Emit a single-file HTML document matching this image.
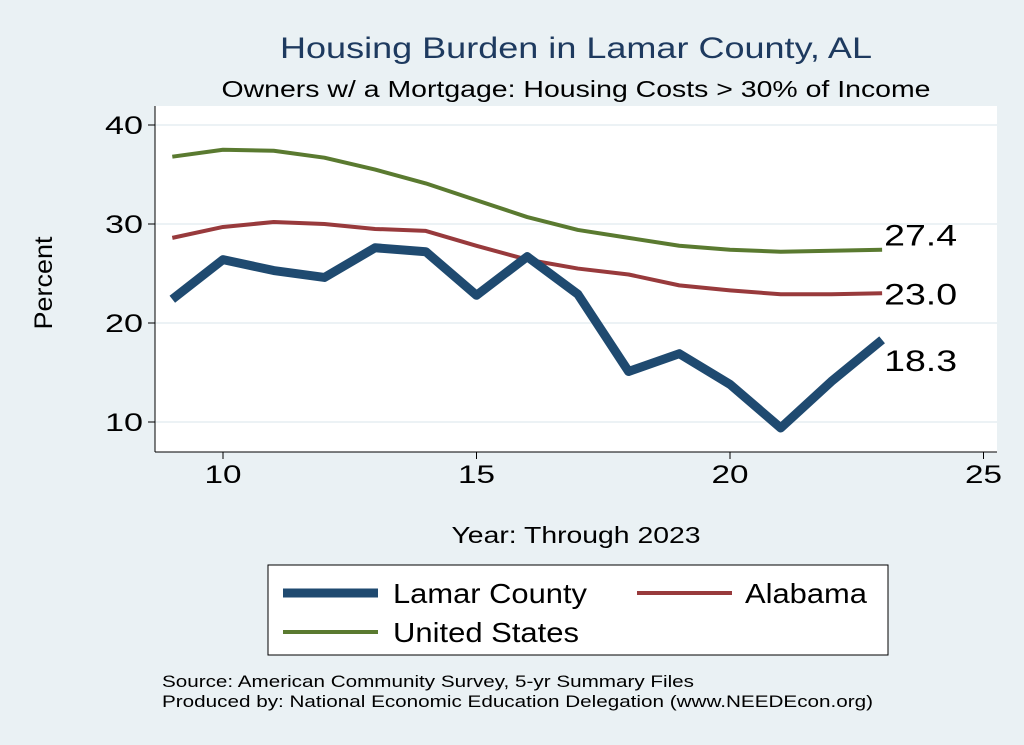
<!DOCTYPE html>
<html><head><meta charset="utf-8"><style>
body{margin:0;background:#eaf1f4;font-family:"Liberation Sans",sans-serif}
svg{display:block}
</style></head><body>
<svg id="c" width="1024" height="745">
<rect x="0" y="0" width="1024" height="745" fill="#eaf1f4"/>
<text x="576" y="58" text-anchor="middle" font-size="30" fill="#1e3a5f" textLength="592" lengthAdjust="spacingAndGlyphs">Housing Burden in Lamar County, AL</text>
<text x="576" y="97" text-anchor="middle" font-size="23" fill="#000" textLength="709" lengthAdjust="spacingAndGlyphs">Owners w/ a Mortgage: Housing Costs &gt; 30% of Income</text>
<rect x="155" y="106" width="842" height="346" fill="#fff"/>
<g id="grid"></g><g id="axes"></g><g id="series"></g>
<line x1="155" y1="106" x2="155" y2="452" stroke="#000"/>
<line x1="155" y1="452" x2="997" y2="452" stroke="#000"/>
<text x="52" y="283" text-anchor="middle" font-size="25" transform="rotate(-90 52 283)" textLength="93" lengthAdjust="spacingAndGlyphs">Percent</text>
<text x="576" y="543" text-anchor="middle" font-size="23" textLength="249" lengthAdjust="spacingAndGlyphs">Year: Through 2023</text>
<g>
<rect x="268" y="565" width="620" height="90" fill="#fff" stroke="#000" stroke-width="1"/>
<line x1="283" y1="593" x2="378" y2="593" stroke="#1f4a70" stroke-width="9"/>
<text x="393" y="603" font-size="28" textLength="194" lengthAdjust="spacingAndGlyphs">Lamar County</text>
<line x1="637" y1="593" x2="732" y2="593" stroke="#983a3c" stroke-width="4"/>
<text x="745" y="603" font-size="28" textLength="122" lengthAdjust="spacingAndGlyphs">Alabama</text>
<line x1="283" y1="632" x2="378" y2="632" stroke="#5a7a30" stroke-width="4"/>
<text x="393" y="642" font-size="28" textLength="186" lengthAdjust="spacingAndGlyphs">United States</text>
</g>
<text x="162" y="687" font-size="17" textLength="532" lengthAdjust="spacingAndGlyphs">Source: American Community Survey, 5-yr Summary Files</text>
<text x="162" y="707" font-size="17" textLength="711" lengthAdjust="spacingAndGlyphs">Produced by: National Economic Education Delegation (www.NEEDEcon.org)</text>
</svg>
<script>
const years=[9,10,11,12,13,14,15,16,17,18,19,20,21,22,23];
const lamar=[22.4,26.4,25.3,24.6,27.6,27.2,22.8,26.7,22.9,15.1,16.9,13.8,9.4,14.1,18.3];
const alabama=[28.6,29.7,30.2,30.0,29.5,29.3,27.8,26.4,25.5,24.9,23.8,23.3,22.9,22.9,23.0];
const us=[36.8,37.5,37.4,36.7,35.5,34.1,32.4,30.7,29.4,28.6,27.8,27.4,27.2,27.3,27.4];
const xTicks=[10,15,20,25];
const yTicks=[10,20,30,40];
const NS="http://www.w3.org/2000/svg";
function X(v){return 223+(v-10)*50.7;}
function Y(v){return 422-(v-10)*9.9;}
function mk(t,a,p){const e=document.createElementNS(NS,t);for(const k in a)e.setAttribute(k,a[k]);p.appendChild(e);return e;}
const grid=document.getElementById('grid'),axes=document.getElementById('axes'),ser=document.getElementById('series');
yTicks.forEach(v=>{
const g=mk('line',{x1:155,x2:997,y1:Y(v),y2:Y(v),stroke:'#e6eef2','stroke-width':1.5},grid);


const t=mk('line',{x1:148,x2:155,y1:Y(v),y2:Y(v),stroke:'#000'},axes);


const l=mk('text',{x:143,y:Y(v)+9,'text-anchor':'end','font-size':25,textLength:38,lengthAdjust:'spacingAndGlyphs'},axes);l.textContent=v;


});
xTicks.forEach(v=>{
const t=mk('line',{x1:X(v),x2:X(v),y1:452,y2:459,stroke:'#000'},axes);


const l=mk('text',{x:X(v),y:483,'text-anchor':'middle','font-size':25,textLength:37,lengthAdjust:'spacingAndGlyphs'},axes);l.textContent=v;


});
function line(d,c,w,name){
const p=mk('polyline',{points:d.map((v,i)=>X(years[i])+','+Y(v)).join(' '),fill:'none',stroke:c,'stroke-width':w,'stroke-linejoin':'round'},ser);


}
line(us,'#5a7a30',4,'line-united-states');
line(alabama,'#983a3c',4,'line-alabama');
line(lamar,'#1f4a70',9,'line-lamar-county');
function lab(d,dy,name){
const n=d.length-1;
const t=mk('text',{x:X(years[n])+2,y:Y(d[n])+dy,'font-size':30,textLength:73,lengthAdjust:'spacingAndGlyphs'},ser);t.textContent=d[n].toFixed(1);


}
lab(us,-4,'label-us-last');
lab(alabama,11,'label-alabama-last');
lab(lamar,31,'label-lamar-last');
</script>
</body></html>
